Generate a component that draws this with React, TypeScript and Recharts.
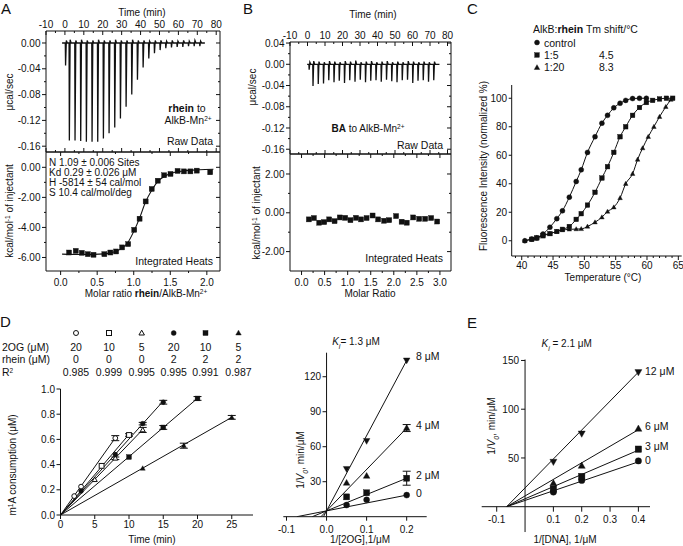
import React from 'react';
import { LineChart, Line, XAxis, YAxis, ReferenceLine, ErrorBar } from 'recharts';

const W = 683;
const H = 546;
const FONT = '"Liberation Sans", Arial, Helvetica, sans-serif';
const INK = '#111';

// ---------- A : rhein titrated into AlkB-Mn2+ ----------
const injTimeA = [0.2, 2.2, 5.2, 8.2, 11.2, 14.2, 17.2, 20.2, 23.2, 26.2, 29.2, 32.2, 35.2, 38.2, 41.2, 44.2, 47.2, 50.2, 53.2, 56.2, 59.2, 62.2, 65.2, 68.2, 71.2];
const peakA = [-0.035, -0.151, -0.151, -0.152, -0.153, -0.153, -0.153, -0.148, -0.14, -0.131, -0.117, -0.099, -0.08, -0.057, -0.038, -0.024, -0.016, -0.011, -0.008, -0.007, -0.006, -0.006, -0.005, -0.005, -0.005];
const bumpA = [0.004, 0.005, 0.004, 0.005, 0.004, 0.004, 0.005, 0.004, 0.004, 0.005, 0.004, 0.004, 0.005, 0.004, 0.004, 0.003, 0.004, 0.004, 0.003, 0.004, 0.003, 0.004, 0.003, 0.004, 0.003];
const ratioA = [0.115, 0.207, 0.29, 0.372, 0.45, 0.598, 0.68, 0.759, 0.841, 0.924, 1.007, 1.08, 1.163, 1.246, 1.329, 1.416, 1.503, 1.6, 1.687, 1.775, 1.862, 2.046];
const heatA = [-5.67, -5.56, -5.69, -5.78, -5.82, -5.78, -5.67, -5.6, -5.33, -5.11, -4.16, -3.42, -2.27, -1.44, -0.89, -0.53, -0.44, -0.24, -0.27, -0.27, -0.22, -0.33];
const fitRatioA = [0.02, 0.3, 0.6, 0.75, 0.84, 0.92, 1.0, 1.08, 1.16, 1.25, 1.33, 1.42, 1.5, 1.68, 1.9, 2.09];
const fitHeatA = [-5.78, -5.8, -5.76, -5.6, -5.38, -5.0, -4.27, -3.38, -2.33, -1.49, -0.93, -0.6, -0.42, -0.24, -0.16, -0.13];

// ---------- B : BA titrated into AlkB-Mn2+ ----------
const injTimeB = [0.8, 3.0, 6.0, 9.0, 12.0, 15.0, 18.0, 21.0, 24.0, 27.0, 30.0, 33.0, 36.0, 39.0, 42.0, 45.0, 48.0, 51.0, 54.0, 57.0, 60.0, 63.0, 66.0, 69.0, 72.0];
const peakB = [-0.01, -0.041, -0.037, -0.036, -0.03, -0.034, -0.031, -0.035, -0.03, -0.033, -0.029, -0.034, -0.031, -0.03, -0.033, -0.029, -0.032, -0.034, -0.03, -0.029, -0.035, -0.031, -0.03, -0.033, -0.03];
const bumpB = [0.004, 0.006, 0.005, 0.004, 0.006, 0.005, 0.004, 0.006, 0.005, 0.007, 0.004, 0.005, 0.006, 0.004, 0.005, 0.006, 0.004, 0.005, 0.004, 0.006, 0.005, 0.004, 0.005, 0.004, 0.005];
const ratioB = [0.159, 0.268, 0.383, 0.492, 0.6, 0.716, 0.83, 0.947, 1.06, 1.18, 1.29, 1.41, 1.54, 1.66, 1.79, 1.9, 2.05, 2.17, 2.28, 2.42, 2.55, 2.68, 2.81, 2.94];
const heatB = [-0.34, -0.27, -0.51, -0.48, -0.34, -0.43, -0.24, -0.26, -0.38, -0.26, -0.34, -0.27, -0.14, -0.34, -0.41, -0.38, -0.17, -0.46, -0.51, -0.24, -0.31, -0.31, -0.27, -0.45];

// ---------- C : thermal shift ----------
const tempCtrl = [40.5, 41.6, 42.4, 43.4, 44.5, 45.6, 46.5, 47.6, 48.7, 49.5, 50.5, 51.7, 52.8, 53.7, 54.7, 55.7, 56.6, 57.7, 58.8, 59.9];
const fluoCtrl = [0, 1.2, 2, 4.7, 9.5, 15.5, 21, 30.6, 41.6, 49.8, 62, 73, 82.5, 88, 93.3, 96.5, 98.5, 99.8, 100, 100];
const temp15 = [41.6, 42.4, 43.4, 44.5, 45.6, 46.5, 47.6, 48.7, 49.5, 50.5, 51.7, 52.8, 53.7, 54.7, 55.7, 56.6, 57.7, 58.8, 59.9, 60.9, 62.0, 63.1, 64.1];
const fluo15 = [1, 2, 3.5, 5, 6.5, 8, 10, 15, 19, 25, 34, 44, 52, 62, 73, 80, 88, 93.5, 97, 98.5, 99.5, 100, 100];
const temp120 = [40.5, 41.6, 42.4, 43.4, 44.5, 45.6, 46.5, 47.6, 48.7, 49.5, 50.5, 51.7, 52.8, 53.7, 54.7, 55.7, 56.6, 57.7, 58.5, 59.3, 60.2, 61.1, 62.0, 63.0, 63.8];
const fluo120 = [0, 1, 2, 4, 5, 6.5, 7.5, 8, 8.2, 8.3, 10, 13, 16.5, 20.5, 23.5, 30, 40, 47, 57, 65, 73, 80, 87, 94, 99];

// ---------- D (left) : m1A demethylation time course ----------
const tOC = [2, 3, 8];
const yOC = [0.15, 0.225, 0.61];
const eOC = [0, 0, 0.02];
const tOS = [6, 10];
const yOS = [0.39, 0.635];
const eOS = [0, 0.01];
const tOT = [5, 8, 12];
const yOT = [0.28, 0.45, 0.675];
const eOT = [0, 0.01, 0.02];
const tFC = [3, 8, 12, 15];
const yFC = [0.19, 0.48, 0.725, 0.895];
const eFC = [0, 0, 0.01, 0.015];
const tFS = [10, 15, 20];
const yFS = [0.46, 0.695, 0.925];
const eFS = [0, 0.015, 0.015];
const tFT = [12, 18, 25];
const yFT = [0.37, 0.55, 0.775];
const eFT = [0, 0.02, 0.015];
const slopeD = [0.0765, 0.064, 0.0565, 0.0603, 0.0463, 0.031];
const endD = [8, 10, 12, 15, 20, 25];
const legendOG = ['20', '10', '5', '20', '10', '5'];
const legendRh = ['0', '0', '0', '2', '2', '2'];
const legendR2 = ['0.985', '0.999', '0.995', '0.995', '0.991', '0.987'];

// ---------- D (right) : 1/V vs 1/[2OG] ----------
const inv2OG = [0.05, 0.1, 0.2];
const lb0 = [10, 14.5, 18.5];
const lb2 = [17, 20.5, 33];
const lb2e = [0, 0, 6];
const lb4 = [29, 35, 76];
const lb4e = [0, 0, 3];
const lb8 = [41, 65, 134];
const lbIntercept = 5;
const lbSlopes = [67.5, 140, 355, 645];

// ---------- E : 1/V vs 1/[DNA] ----------
const invDNA = [0.1, 0.2, 0.4];
const e0 = [15, 27, 47];
const e3 = [18, 31, 59];
const e6 = [24, 42, 80];
const e12 = [46, 75, 138];
const eConverge = -0.065;
const eFitEnd = [46, 58, 79, 138];

// ---------- tick lists ----------
const timeMajor = [-10, 0, 10, 20, 30, 40, 50, 60, 70, 80];
const timeMinor = [-5, 5, 15, 25, 35, 45, 55, 65, 75];
const rawAMajor = [0, -0.04, -0.08, -0.12, -0.16];
const rawAMinor = [-0.02, -0.06, -0.1, -0.14];
const rawBMajor = [0.04, 0, -0.04, -0.08, -0.12, -0.16];
const rawBMinor = [0.02, -0.02, -0.06, -0.1, -0.14];
const heatAMajor = [0, -2, -4, -6];
const heatAMinor = [-1, -3, -5];
const heatBMajor = [2, 0, -2];
const heatBMinor = [1, -1];
const ratioAMajor = [0, 0.5, 1, 1.5, 2];
const ratioAMinor = [0.25, 0.75, 1.25, 1.75];
const ratioBMajor = [0, 0.5, 1, 1.5, 2, 2.5, 3];
const ratioBMinor = [0.25, 0.75, 1.25, 1.75, 2.25, 2.75];
const tempMajor = [40, 45, 50, 55, 60, 65];
const tempMinor = [39, 41, 42, 43, 44, 46, 47, 48, 49, 51, 52, 53, 54, 56, 57, 58, 59, 61, 62, 63, 64];
const fluoMajor = [0, 20, 40, 60, 80, 100];
const timeDMajor = [0, 5, 10, 15, 20, 25];
const m1aMajor = [0, 0.2, 0.4, 0.6, 0.8, 1.0];
const ogMajor = [-0.1, 0, 0.1, 0.2];
const lbDMajor = [30, 60, 90, 120];
const dnaMajor = [-0.1, 0.1, 0.2, 0.3, 0.4];
const lbEMajor = [50, 100, 150];

type Pt = { x: number; y: number; e?: number };
const pts = (xs: number[], ys: number[], es?: number[]): Pt[] =>
  xs.map((x, i) => ({ x, y: ys[i], e: es ? es[i] : 0 }));

function trace(start: number, end: number, times: number[], peaks: number[], bumps: number[]): Pt[] {
  const out: Pt[] = [{ x: start, y: 0 }];
  times.forEach((t, i) => {
    out.push({ x: t, y: 0 }, { x: t + 0.15, y: peaks[i] }, { x: t + 0.55, y: bumps[i] }, { x: t + 1.1, y: 0 });
  });
  out.push({ x: end, y: 0 });
  return out;
}

// every axis is given 1px of room (a zero sized axis is not drawn)
const box = (l: number, t: number, r: number, b: number, all = false) => ({
  left: l - 1,
  top: all ? t - 1 : t,
  right: all ? W - r - 1 : W - r,
  bottom: H - b - 1,
});

type Side = 'left' | 'right' | 'top' | 'bottom';
interface TickCfg {
  side: Side;
  major: number[];
  fmt?: (v: number) => string;
  out?: number;
  inn?: number;
  mOut?: number;
  mInn?: number;
  gap?: number;
  shift?: number;
}

function tk(c: TickCfg) {
  return (p: any) => {
    const v = Number(p.payload.value);
    const major = c.major.some((m) => Math.abs(m - v) < 1e-9);
    const out = major ? c.out ?? 0 : c.mOut ?? 0;
    const inn = major ? c.inn ?? 0 : c.mInn ?? 0;
    const g = c.gap ?? 2;
    const x = p.x + (c.shift ?? 0);
    const y = p.y;
    let l: number[];
    let tx: number;
    let ty: number;
    let anchor: 'start' | 'middle' | 'end' = 'middle';
    if (c.side === 'left') {
      l = [x - out, y, x + inn, y];
      tx = x - out - g;
      ty = y + 3.6;
      anchor = 'end';
    } else if (c.side === 'right') {
      l = [x - inn, y, x + out, y];
      tx = x + out + g;
      ty = y + 3.6;
      anchor = 'start';
    } else if (c.side === 'top') {
      l = [x, y - out, x, y + inn];
      tx = x;
      ty = y - out - g;
    } else {
      l = [x, y - inn, x, y + out];
      tx = x;
      ty = y + out + g + 7.2;
    }
    return (
      <g>
        {out + inn > 0 && <line x1={l[0]} y1={l[1]} x2={l[2]} y2={l[3]} stroke={INK} strokeWidth={1} />}
        {major && c.fmt && (
          <text x={tx} y={ty} textAnchor={anchor} fontSize={10} fill={INK}>
            {c.fmt(v)}
          </text>
        )}
      </g>
    );
  };
}

const ax = {
  type: 'number' as const,
  dataKey: 'x',
  tickSize: 0,
  tickMargin: 0,
  tickLine: false,
  axisLine: { stroke: INK, strokeWidth: 1 },
  interval: 0 as const,
  allowDataOverflow: true,
};
const ay = { ...ax, dataKey: undefined };

const Mark = (p: any) => {
  const { cx, cy, kind, open, s } = p;
  if (cx == null || cy == null || isNaN(cx) || isNaN(cy)) return <g />;
  const st = open ? { fill: '#fff', stroke: INK, strokeWidth: 1 } : { fill: INK, stroke: INK, strokeWidth: 0.4 };
  const h = s / 2;
  if (kind === 'circle') return <circle cx={cx} cy={cy} r={h} {...st} />;
  if (kind === 'square') return <rect x={cx - h} y={cy - h} width={s} height={s} {...st} />;
  if (kind === 'up')
    return <polygon points={`${cx},${cy - h * 1.15} ${cx + h * 1.1},${cy + h * 0.8} ${cx - h * 1.1},${cy + h * 0.8}`} {...st} />;
  return <polygon points={`${cx},${cy + h * 1.15} ${cx + h * 1.1},${cy - h * 0.8} ${cx - h * 1.1},${cy - h * 0.8}`} {...st} />;
};
const dotOf = (kind: string, s: number, open = false) => (p: any) => (
  <Mark key={`m${p.index}`} cx={p.cx} cy={p.cy} kind={kind} s={s} open={open} />
);

function markers(key: string, data: Pt[], kind: string, s: number, open = false, xId: any = 0, yId: any = 0, err = false) {
  return (
    <Line
      key={key}
      data={data}
      dataKey="y"
      xAxisId={xId}
      yAxisId={yId}
      stroke="none"
      dot={dotOf(kind, s, open)}
      activeDot={false}
      isAnimationActive={false}
      legendType="none"
    >
      {err && <ErrorBar dataKey="e" width={4} stroke={INK} strokeWidth={1} direction="y" />}
    </Line>
  );
}

function curve(key: string, data: Pt[], type: any = 'linear', xId: any = 0, yId: any = 0, sw = 1) {
  return (
    <Line
      key={key}
      data={data}
      dataKey="y"
      xAxisId={xId}
      yAxisId={yId}
      type={type}
      stroke={INK}
      strokeWidth={sw}
      dot={false}
      activeDot={false}
      isAnimationActive={false}
    />
  );
}

const Layer = ({ m, children }: { m: any; children: React.ReactNode }) => (
  <div style={{ position: 'absolute', left: 0, top: 0 }}>
    <LineChart width={W} height={H} margin={m}>
      {children}
    </LineChart>
  </div>
);

const f0 = (v: number) => String(v);
const f1 = (v: number) => v.toFixed(1);
const f2 = (v: number) => v.toFixed(2);

function ItcRaw(props: { l: number; t: number; r: number; b: number; yd: [number, number]; yMaj: number[]; yMin: number[]; data: Pt[] }) {
  const { l, t, r, b, yd, yMaj, yMin, data } = props;
  const xd: [number, number] = [-10, 82];
  return (
    <Layer m={box(l, t, r, b, true)}>
      <XAxis {...ax} xAxisId="t" orientation="top" height={1} domain={xd} ticks={[...timeMajor, ...timeMinor]}
        tick={tk({ side: 'top', major: timeMajor, fmt: f0, inn: 4, mInn: 2, gap: 3 })} />
      <XAxis {...ax} xAxisId="b" orientation="bottom" height={1} domain={xd} ticks={[...timeMajor, ...timeMinor]}
        tick={tk({ side: 'bottom', major: timeMajor, inn: 4, mInn: 2 })} />
      <YAxis {...ay} yAxisId="l" orientation="left" width={1} domain={yd} ticks={[...yMaj, ...yMin]}
        tick={tk({ side: 'left', major: yMaj, fmt: f2, out: 4, mOut: 2, gap: 1.5 })} />
      <YAxis {...ay} yAxisId="r" orientation="right" width={1} domain={yd} ticks={[...yMaj, ...yMin]}
        tick={tk({ side: 'right', major: yMaj, inn: 4, mInn: 2 })} />
      {curve('trace', data, 'linear', 't', 'l', 1.3)}
    </Layer>
  );
}

function ItcHeat(props: {
  l: number; t: number; r: number; b: number; xd: [number, number]; yd: [number, number];
  xMaj: number[]; xMin: number[]; yMaj: number[]; yMin: number[]; data: Pt[]; fit?: Pt[];
}) {
  const { l, t, r, b, xd, yd, xMaj, xMin, yMaj, yMin, data, fit } = props;
  return (
    <Layer m={box(l, t, r, b, true)}>
      <XAxis {...ax} xAxisId="b" orientation="bottom" height={1} domain={xd} ticks={[...xMaj, ...xMin]}
        tick={tk({ side: 'bottom', major: xMaj, fmt: f1, out: 4, mOut: 2, gap: 3.5 })} />
      <XAxis {...ax} xAxisId="t" orientation="top" height={1} domain={xd} ticks={[...xMaj, ...xMin]}
        tick={tk({ side: 'top', major: xMaj, inn: 4, mInn: 2 })} />
      <YAxis {...ay} yAxisId="l" orientation="left" width={1} domain={yd} ticks={[...yMaj, ...yMin]}
        tick={tk({ side: 'left', major: yMaj, fmt: f2, out: 4, mOut: 2, gap: 1.5 })} />
      <YAxis {...ay} yAxisId="r" orientation="right" width={1} domain={yd} ticks={[...yMaj, ...yMin]}
        tick={tk({ side: 'right', major: yMaj, inn: 4, mInn: 2 })} />
      {fit && curve('fit', fit, 'monotone', 'b', 'l', 1.1)}
      {markers('heat', data, 'square', 5, false, 'b', 'l')}
    </Layer>
  );
}

function PanelC() {
  const xd: [number, number] = [38.4, 65.54];
  return (
    <Layer m={box(511.7, 85, 681.7, 256)}>
      <XAxis {...ax} height={1} domain={xd} ticks={[...tempMajor, ...tempMinor]}
        tick={tk({ side: 'bottom', major: tempMajor, fmt: f0, out: 4, mOut: 2, gap: 1.5 })} />
      <YAxis {...ay} width={1} domain={[-10.7, 109.3]} ticks={fluoMajor}
        tick={tk({ side: 'left', major: fluoMajor, fmt: f0, out: 3, gap: 1.5 })} />
      {curve('c0', pts(tempCtrl, fluoCtrl), 'monotone')}
      {curve('c1', pts(temp15, fluo15), 'monotone')}
      {curve('c2', pts(temp120, fluo120), 'monotone')}
      {markers('m0', pts(tempCtrl, fluoCtrl), 'circle', 5)}
      {markers('m1', pts(temp15, fluo15), 'square', 4.6)}
      {markers('m2', pts(temp120, fluo120), 'up', 4.2)}
    </Layer>
  );
}

function PanelDLeft() {
  const kinds = ['circle', 'square', 'up', 'circle', 'square', 'up'];
  const opens = [true, true, true, false, false, false];
  const series = [pts(tOC, yOC, eOC), pts(tOS, yOS, eOS), pts(tOT, yOT, eOT), pts(tFC, yFC, eFC), pts(tFS, yFS, eFS), pts(tFT, yFT, eFT)];
  return (
    <Layer m={box(60.5, 389, 253, 515)}>
      <XAxis {...ax} height={1} domain={[0, 28.1]} ticks={timeDMajor}
        tick={tk({ side: 'bottom', major: timeDMajor, fmt: f0, out: 4, gap: 1.5 })} />
      <YAxis {...ay} width={1} domain={[0, 1]} ticks={m1aMajor}
        tick={tk({ side: 'left', major: m1aMajor, fmt: f1, out: 4, gap: 1.5 })} />
      {slopeD.map((s, i) => curve(`f${i}`, [{ x: 0, y: 0 }, { x: endD[i], y: s * endD[i] }]))}
      {series.map((d, i) => markers(`d${i}`, d, kinds[i], kinds[i] === 'up' ? 4.6 : 4.8, opens[i], 0, 0, true))}
    </Layer>
  );
}

function PanelDRight() {
  const l = 283.3;
  const r = 426.7;
  const xd: [number, number] = [-0.108, 0.25];
  const x0 = ((0 - xd[0]) / (xd[1] - xd[0])) * (r - l);
  const kinds = ['circle', 'square', 'up', 'down'];
  const series = [pts(inv2OG, lb0), pts(inv2OG, lb2, lb2e), pts(inv2OG, lb4, lb4e), pts(inv2OG, lb8)];
  return (
    <Layer m={box(l, 352.7, r, 516.7)}>
      <XAxis {...ax} height={1} domain={xd} ticks={ogMajor}
        tick={tk({ side: 'bottom', major: ogMajor, fmt: f1, out: 4, gap: 5 })} />
      <YAxis {...ay} width={1} axisLine={false} domain={[0, 140.6]} ticks={lbDMajor}
        tick={tk({ side: 'left', major: lbDMajor, fmt: f0, out: 4, gap: 1.5, shift: x0 })} />
      <ReferenceLine x={0} stroke={INK} strokeWidth={1} ifOverflow="visible" />
      {lbSlopes.map((s, i) =>
        curve(`f${i}`, [{ x: -lbIntercept / s, y: 0 }, { x: 0.2, y: lbIntercept + s * 0.2 }]),
      )}
      {series.map((d, i) => markers(`d${i}`, d, kinds[i], 6, false, 0, 0, i === 1 || i === 2))}
    </Layer>
  );
}

function PanelE() {
  const l = 481.7;
  const r = 650;
  const xd: [number, number] = [-0.153, 0.441];
  const x0 = ((0 - xd[0]) / (xd[1] - xd[0])) * (r - l);
  const kinds = ['circle', 'square', 'up', 'down'];
  const series = [pts(invDNA, e0), pts(invDNA, e3), pts(invDNA, e6), pts(invDNA, e12)];
  return (
    <Layer m={box(l, 359.5, r, 506.7)}>
      <XAxis {...ax} height={1} domain={xd} ticks={dnaMajor}
        tick={tk({ side: 'bottom', major: dnaMajor, fmt: f1, out: 5, gap: 4.5 })} />
      <YAxis {...ay} width={1} axisLine={false} domain={[0, 151]} ticks={lbEMajor}
        tick={tk({ side: 'left', major: lbEMajor, fmt: f0, out: 4, gap: 2, shift: x0 })} />
      <ReferenceLine segment={[{ x: 0, y: -26 }, { x: 0, y: 151 }]} stroke={INK} strokeWidth={1} ifOverflow="visible" />
      {eFitEnd.map((y, i) => curve(`f${i}`, [{ x: eConverge, y: 0 }, { x: 0.4, y }]))}
      {series.map((d, i) => markers(`d${i}`, d, kinds[i], 6.4))}
    </Layer>
  );
}

const T = ({ x, y, a = 'start', s = 10, rot, w, children }: any) => (
  <text x={x} y={y} textAnchor={a} fontSize={s} fontWeight={w} fill={INK}
    transform={rot ? `rotate(-90 ${x} ${y})` : undefined}>
    {children}
  </text>
);
const Sup = ({ children }: any) => (
  <tspan baselineShift="super" fontSize={6.5}>{children}</tspan>
);
const Sub = ({ children, it }: any) => (
  <tspan baselineShift="sub" fontSize={7} fontStyle={it ? 'italic' : undefined}>{children}</tspan>
);

function LegendMark({ x, y, kind, open, s }: any) {
  return <Mark cx={x} cy={y} kind={kind} open={open} s={s} />;
}

function Overlay() {
  const cols = [76, 109, 141.7, 173.7, 205.5, 238.5];
  const kinds = ['circle', 'square', 'up', 'circle', 'square', 'up'];
  return (
    <svg width={W} height={H} style={{ position: 'absolute', left: 0, top: 0, pointerEvents: 'none' }}>
      <T x={1} y={13.5} s={15}>A</T>
      <T x={243} y={13.5} s={15}>B</T>
      <T x={467} y={13.5} s={15}>C</T>
      <T x={0} y={327} s={15}>D</T>
      <T x={467} y={328} s={15}>E</T>

      {/* A */}
      <T x={142} y={16} a="middle">Time (min)</T>
      <T x={13} y={92} a="middle" rot>μcal/sec</T>
      <T x={13} y={211} a="middle" rot>kcal/mol<Sup>-1</Sup> of injectant</T>
      <T x={187} y={112} a="middle" s={10.5}><tspan fontWeight="bold">rhein</tspan> to</T>
      <T x={188} y={124} a="middle" s={10.5}>AlkB-Mn<Sup>2+</Sup></T>
      <T x={213} y={145} a="end" s={10.5}>Raw Data</T>
      <T x={49} y={166}>N  1.09 ± 0.006 Sites</T>
      <T x={49} y={176}>Kd 0.29 ± 0.026 μM</T>
      <T x={49} y={186}>H -5814 ± 54 cal/mol</T>
      <T x={49} y={196}>S 10.4 cal/mol/deg</T>
      <T x={213} y={265} a="end" s={10.5}>Integrated Heats</T>
      <T x={146} y={297} a="middle">Molar ratio <tspan fontWeight="bold">rhein</tspan>/AlkB-Mn<Sup>2+</Sup></T>

      {/* B */}
      <T x={373} y={18} a="middle">Time (min)</T>
      <T x={255.5} y={87} a="middle" rot>μcal/sec</T>
      <T x={260} y={213} a="middle" rot>kcal/mol<Sup>-1</Sup> of injectant</T>
      <T x={368} y={132} a="middle"><tspan fontWeight="bold">BA</tspan> to AlkB-Mn<Sup>2+</Sup></T>
      <T x={443} y={149} a="end" s={10.5}>Raw Data</T>
      <T x={443} y={262} a="end" s={10.5}>Integrated Heats</T>
      <T x={370} y={297} a="middle">Molar Ratio</T>

      {/* C */}
      <T x={533} y={33} s={10.5}>AlkB:<tspan fontWeight="bold">rhein</tspan> Tm shift/°C</T>
      <LegendMark x={537} y={42.5} kind="circle" s={5} />
      <LegendMark x={537} y={55} kind="square" s={4.6} />
      <LegendMark x={537} y={67.5} kind="up" s={5} />
      <T x={544} y={46.5} s={10.5}>control</T>
      <T x={544} y={58.5} s={10.5}>1:5</T>
      <T x={544} y={71} s={10.5}>1:20</T>
      <T x={599} y={58.5} s={10.5}>4.5</T>
      <T x={599} y={71} s={10.5}>8.3</T>
      <T x={486.5} y={166} a="middle" rot>Fluorescence Intensity  (normalized %)</T>
      <T x={603} y={281} a="middle">Temperature (°C)</T>

      {/* D left */}
      {cols.map((x, i) => (
        <LegendMark key={`lm${i}`} x={x} y={333} kind={kinds[i]} open={i < 3} s={5} />
      ))}
      <T x={2} y={350.5} s={10.5}>2OG (μM)</T>
      <T x={2} y={363} s={10.5}>rhein (μM)</T>
      <T x={2} y={375.5} s={10.5}>R<Sup>2</Sup></T>
      {cols.map((x, i) => (
        <React.Fragment key={`lt${i}`}>
          <T x={x} y={350.5} a="middle" s={10.5}>{legendOG[i]}</T>
          <T x={x} y={363} a="middle" s={10.5}>{legendRh[i]}</T>
          <T x={x} y={375.5} a="middle" s={10.5}>{legendR2[i]}</T>
        </React.Fragment>
      ))}
      <T x={15.5} y={465} a="middle" rot>m<Sup>1</Sup>A consumption (μM)</T>
      <T x={152} y={543} a="middle">Time (min)</T>

      {/* D right */}
      <T x={356} y={345} a="middle"><tspan fontStyle="italic">K</tspan><Sub it>i</Sub>= 1.3 μM</T>
      <T x={303.5} y={460} a="middle" rot>1/<tspan fontStyle="italic">V</tspan><Sub it>0</Sub>, min/μM</T>
      <T x={360} y={543} a="middle">1/[2OG],1/μM</T>
      <T x={416} y={360} s={10.5}>8 μM</T>
      <T x={416} y={428.5} s={10.5}>4 μM</T>
      <T x={416} y={478.5} s={10.5}>2 μM</T>
      <T x={416} y={497} s={10.5}>0</T>

      {/* E */}
      <T x={566.7} y={347} a="middle"><tspan fontStyle="italic">K</tspan><Sub it>i</Sub> = 2.1 μM</T>
      <T x={495} y={426} a="middle" rot>1/<tspan fontStyle="italic">V</tspan><Sub it>0</Sub>, min/μM</T>
      <T x={565} y={543} a="middle">1/[DNA], 1/μM</T>
      <T x={645} y={375} s={10.5}>12 μM</T>
      <T x={645} y={430} s={10.5}>6 μM</T>
      <T x={645} y={450} s={10.5}>3 μM</T>
      <T x={645} y={463.5} s={10.5}>0</T>
    </svg>
  );
}

export default function App() {
  const rawA = trace(-1.5, 74, injTimeA, peakA, bumpA);
  const rawB = trace(-0.2, 75.4, injTimeB, peakB, bumpB);
  return (
    <div style={{ position: 'absolute', left: 0, top: 0, width: W, height: H, background: '#fff', fontFamily: FONT, overflow: 'hidden' }}>
      <ItcRaw l={46} t={31} r={220} b={152} yd={[-0.169, 0.0186]} yMaj={rawAMajor} yMin={rawAMinor} data={rawA} />
      <ItcHeat l={46} t={152} r={220} b={271} xd={[-0.2, 2.18]} yd={[-6.9, 1.02]} xMaj={ratioAMajor} xMin={ratioAMinor}
        yMaj={heatAMajor} yMin={heatAMinor} data={pts(ratioA, heatA)} fit={pts(fitRatioA, fitHeatA)} />
      <ItcRaw l={290} t={42} r={451} b={154} yd={[-0.169, 0.042]} yMaj={rawBMajor} yMin={rawBMinor} data={rawB} />
      <ItcHeat l={290} t={154} r={451} b={271} xd={[-0.25, 3.24]} yd={[-3, 3.03]} xMaj={ratioBMajor} xMin={ratioBMinor}
        yMaj={heatBMajor} yMin={heatBMinor} data={pts(ratioB, heatB)} />
      <PanelC />
      <PanelDLeft />
      <PanelDRight />
      <PanelE />
      <Overlay />
    </div>
  );
}
